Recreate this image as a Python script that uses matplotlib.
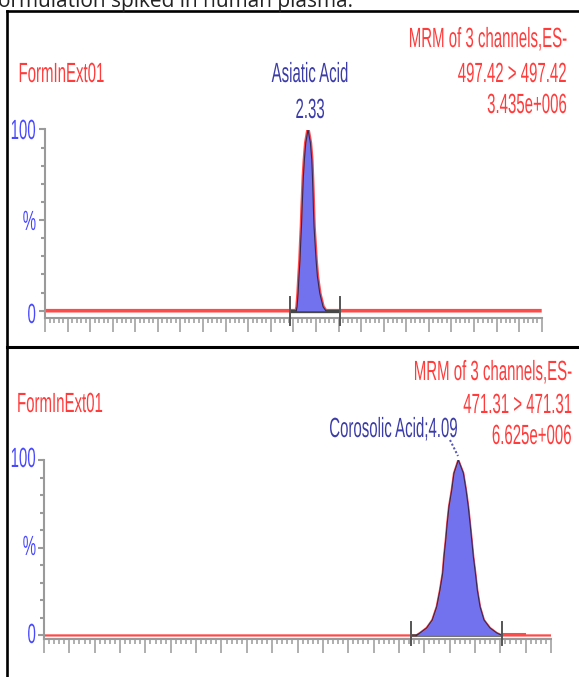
import numpy as np
import matplotlib
matplotlib.use("Agg")
import matplotlib.pyplot as plt
from matplotlib.ticker import MultipleLocator
from matplotlib.patheffects import AbstractPathEffect
from matplotlib.transforms import Affine2D

# --- data (time in min, intensity in %) ---
asiatic_time = [2.226, 2.233, 2.242, 2.250, 2.259, 2.265, 2.272, 2.277, 2.283, 2.289,
                2.298, 2.310, 2.330, 2.351, 2.363, 2.369, 2.374, 2.378, 2.383, 2.392,
                2.401, 2.413, 2.434, 2.463, 2.487]
asiatic_pct = [0, 2.2, 9.6, 18.9, 28.1, 37.3, 46.5, 55.7, 64.9, 74.2,
               83.4, 92.6, 100, 92.6, 83.4, 74.2, 64.9, 55.7, 46.5, 37.3,
               28.1, 18.9, 9.6, 2.2, 0]
asiatic_limits = [2.174, 2.611]      # integration start / end
top_range = [0.0, 4.4]

corosolic_time = [3.670, 3.708, 3.774, 3.829, 3.873, 3.905, 3.932, 3.945, 3.962, 3.977,
                  3.994, 4.021, 4.043, 4.086, 4.135, 4.162, 4.184, 4.201, 4.218, 4.234,
                  4.254, 4.273, 4.300, 4.339, 4.398, 4.465, 4.517]
corosolic_pct = [0, 1.4, 4.3, 8.8, 16.4, 25.9, 35.6, 44.9, 54.4, 64.1,
                 73.4, 82.9, 92.4, 100, 92.6, 82.9, 73.4, 64.1, 54.4, 44.9,
                 35.6, 25.9, 16.4, 8.8, 4.3, 1.4, 0]
corosolic_limits = [3.619, 4.517]
corosolic_tail_time = [4.52, 4.73]
corosolic_tail_pct = [1.1, 1.1]
bottom_range = [0.0, 5.0]

top_labels = ["FormInExt01", "Asiatic Acid", "2.33",
              "MRM of 3 channels,ES-", "497.42 > 497.42", "3.435e+006"]
bottom_labels = ["FormInExt01", "Corosolic Acid;4.09",
                 "MRM of 3 channels,ES-", "471.31 > 471.31", "6.625e+006"]
yaxis_labels = ["100", "%", "0"]
caption = "formulation spiked in human plasma."

RED = "#ff3c3c"
TRACE = "#ff4a4a"
FILL = "#7272ee"
PEAKTXT = "#3c3ca8"
YTXT = "#4848ff"
GREY = "#9a9a9a"
FONT = ["Liberation Sans Narrow", "Liberation Sans"]


class Tall(AbstractPathEffect):
    # stretch glyphs upward from the baseline, like the instrument's bitmap font
    def __init__(self, sy=1.85):
        super().__init__()
        self.sy = sy

    def draw_path(self, renderer, gc, tpath, affine, rgbFace=None):
        renderer.draw_path(gc, tpath, Affine2D().scale(1, self.sy) + affine, rgbFace)


W, H = 579, 677
fig = plt.figure(figsize=(W / 100, H / 100), dpi=100)

# overlay in pixel coordinates for frame and labels
ov = fig.add_axes([0, 0, 1, 1])
ov.set_xlim(0, W)
ov.set_ylim(H, 0)
ov.axis("off")


def label(x, y, s, color, ha="left"):
    ov.text(x, y, s, color=color, ha=ha, va="baseline", fontsize=10.8,
            family=FONT, path_effects=[Tall()])


ov.text(-9, 6.5, caption, fontsize=15, family=["Open Sans", "DejaVu Sans"],
        color="#222222", va="baseline", ha="left")
ov.plot([6.5, 6.5], [11, H], color="black", lw=1.9, clip_on=False)
ov.plot([6.5, W], [11, 11], color="black", lw=1.9, clip_on=False)
ov.plot([6.5, W], [346.5, 346.5], color="black", lw=2.2, clip_on=False)

# top panel texts
label(18.5, 82, top_labels[0], RED)
label(310, 82, top_labels[1], PEAKTXT, ha="center")
label(310, 118, top_labels[2], PEAKTXT, ha="center")
label(567, 47, top_labels[3], RED, ha="right")
label(567, 82, top_labels[4], RED, ha="right")
label(567, 113, top_labels[5], RED, ha="right")
for s, yb in zip(yaxis_labels, [139, 230, 323]):
    label(36, yb, s, YTXT, ha="right")

# bottom panel texts
label(17, 412, bottom_labels[0], RED)
label(458, 437, bottom_labels[1], PEAKTXT, ha="right")
label(572, 380, bottom_labels[2], RED, ha="right")
label(572, 413, bottom_labels[3], RED, ha="right")
label(572, 444, bottom_labels[4], RED, ha="right")
for s, yb in zip(yaxis_labels, [467, 555, 643]):
    label(36, yb, s, YTXT, ha="right")
ov.plot([450, 458], [440, 456], color="#5a5ab4", lw=1.5, ls=(0, (1, 1)))


def chromatogram(rect, trange, ymin, pk_t, pk_p, limits, major, minor, trace_lw, bar_lw):
    ax = fig.add_axes(rect)
    ax.patch.set_visible(False)
    t = np.concatenate([[trange[0]], pk_t, [trange[1]]])
    p = np.concatenate([[0], pk_p, [0]])
    ax.plot(t, p, color=TRACE, lw=trace_lw, zorder=2, solid_capstyle="butt")
    ax.plot(limits, [0, 0], color="#474747", lw=bar_lw, zorder=3, solid_capstyle="butt")
    ax.fill_between(pk_t, pk_p, 0, color=FILL, lw=0, zorder=4)
    ax.plot(pk_t, pk_p, color="#3a2850", lw=0.8, zorder=5)
    for x in limits:
        ax.plot([x, x], [7.5, ymin - 3.4], color="#555555", lw=1.4, clip_on=False, zorder=6)
    ax.set_xlim(trange)
    ax.set_ylim(ymin, 100)
    for side in ["top", "right"]:
        ax.spines[side].set_visible(False)
    for side in ["left", "bottom"]:
        ax.spines[side].set_color(GREY)
        ax.spines[side].set_linewidth(1.5)
    ax.xaxis.set_major_locator(MultipleLocator(major))
    ax.xaxis.set_minor_locator(MultipleLocator(minor))
    ax.set_yticks([0, 50, 100])
    ax.yaxis.set_minor_locator(MultipleLocator(10))
    ax.tick_params(axis="x", which="major", length=10, width=1.1, color=GREY, labelbottom=False)
    ax.tick_params(axis="x", which="minor", length=3.6, width=1.1, color=GREY)
    ax.tick_params(axis="y", which="major", length=4.5, width=1.5, color=GREY, labelleft=False)
    ax.tick_params(axis="y", which="minor", length=3, width=1.5, color=GREY)
    return ax


ax_top = chromatogram([45 / W, 1 - 318.5 / H, 496.7 / W, 189 / H], top_range, -4.3,
                      asiatic_time, asiatic_pct, asiatic_limits, 0.2, 0.04, 2.6, 2.4)
ax_bot = chromatogram([44 / W, 1 - 639.3 / H, 507 / W, 179.3 / H], bottom_range, -2.2,
                      corosolic_time, corosolic_pct, corosolic_limits, 0.25, 0.05, 1.6, 1.8)
ax_bot.plot(corosolic_tail_time, corosolic_tail_pct, color=TRACE, lw=2.2, zorder=2)

fig.savefig("out.png", dpi=100)
